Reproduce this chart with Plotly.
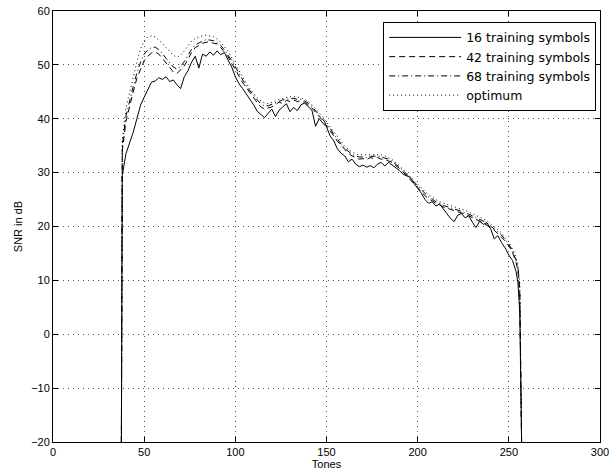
import plotly.graph_objects as go

# Tone indices (x) -- start edge, every 2nd tone, then the steep fall-off
tones = [37.5] + list(range(38, 255, 2)) + [255, 256, 257]

snr_16 = [-20,
    29.5, 33.5, 35.5, 37.5, 40.0, 42.5, 44.0, 45.5, 46.8, 47.0,
    47.6, 47.3, 47.8, 46.9, 47.2, 46.3, 45.6, 47.8, 48.9, 50.5,
    51.6, 49.4, 52.0, 51.6, 52.4, 51.8, 52.6, 51.9, 52.3, 50.9,
    49.6, 47.8, 46.5, 45.6, 44.6, 43.8, 42.6, 41.4, 40.8, 40.2,
    41.0, 41.8, 40.4, 41.6, 42.2, 42.8, 41.3, 42.1, 41.5, 42.6,
    42.9, 42.2, 41.6, 38.6, 40.0, 39.2, 38.5, 36.8, 35.9, 34.4,
    33.6, 33.1, 32.0, 32.5, 31.6, 31.1, 31.4, 31.0, 31.3, 30.9,
    31.6, 31.9, 31.2, 31.9, 31.4, 31.0, 30.4, 29.7, 29.4, 29.1,
    28.0, 27.2, 26.2, 25.0, 24.3, 24.6, 23.8, 24.2, 23.4, 22.4,
    21.5, 20.9, 22.1, 22.4, 21.6, 22.0, 20.8, 19.8, 21.0, 20.4,
    20.7, 19.6, 17.7, 18.3, 17.0, 16.0, 14.7, 13.7, 11.6,
    9.5, 4.0, -20]

snr_42 = [-20,
    34.0, 39.5, 42.5, 45.0, 47.5, 49.2, 50.8, 51.6, 52.2, 52.4,
    52.0, 51.2, 50.3, 49.6, 48.7, 48.4, 49.2, 49.8, 51.0, 52.3,
    53.2, 53.6, 54.0, 54.2, 54.3, 54.0, 53.9, 53.2, 52.4, 51.5,
    50.2, 49.2, 47.9, 46.7, 45.8, 44.8, 43.9, 43.0, 42.2, 41.8,
    42.0, 42.2, 42.6, 43.1, 42.8, 43.4, 43.2, 43.5, 43.2, 43.3,
    43.0, 42.6, 42.0, 41.1, 40.4, 39.7, 38.8, 37.9, 36.8, 35.8,
    35.0, 34.2, 33.6, 33.1, 32.8, 32.5, 32.6, 32.4, 32.8, 32.6,
    32.8, 32.5, 32.4, 32.2, 31.9, 31.3, 30.8, 30.1, 29.4, 28.6,
    28.0, 27.2, 26.4, 25.8, 25.1, 24.8, 24.3, 24.0, 23.6, 23.4,
    23.2, 22.9, 22.8, 22.5, 22.3, 22.0, 21.6, 21.3, 21.0, 20.6,
    20.3, 19.8, 19.3, 18.7, 18.0, 17.3, 16.4, 15.2, 13.3,
    11.8, 7.5, -20]

snr_68 = [-20,
    35.0, 40.5, 43.5, 46.0, 48.5, 50.5, 52.0, 52.8, 53.2, 53.3,
    52.8, 52.1, 51.2, 50.4, 49.6, 49.2, 49.7, 50.6, 51.8, 52.9,
    53.7, 54.1, 54.4, 54.7, 54.6, 54.5, 54.1, 53.6, 52.8, 51.9,
    50.8, 49.6, 48.4, 47.2, 46.1, 45.2, 44.3, 43.5, 42.8, 42.4,
    42.4, 42.7, 43.0, 43.3, 43.5, 43.6, 43.7, 43.8, 43.6, 43.6,
    43.3, 42.9, 42.3, 41.5, 40.8, 40.0, 39.1, 38.2, 37.1, 36.1,
    35.3, 34.5, 33.9, 33.4, 33.1, 32.9, 32.9, 32.8, 33.0, 33.0,
    33.1, 32.9, 32.7, 32.5, 32.1, 31.6, 31.0, 30.4, 29.6, 28.9,
    28.2, 27.5, 26.8, 26.1, 25.5, 25.1, 24.6, 24.3, 23.9, 23.7,
    23.5, 23.3, 23.1, 22.9, 22.6, 22.3, 22.0, 21.7, 21.3, 21.0,
    20.6, 20.1, 19.6, 19.0, 18.4, 17.6, 16.7, 15.5, 13.7,
    12.3, 8.5, -20]

snr_opt = [-20,
    36.0, 42.0, 45.0, 47.5, 50.5, 53.0, 54.4, 55.2, 55.4, 55.2,
    54.6, 54.0, 53.2, 52.5, 51.8, 51.4, 51.8, 52.6, 53.6, 54.4,
    54.9, 55.2, 55.4, 55.5, 55.4, 55.2, 54.8, 54.2, 53.4, 52.5,
    51.3, 50.1, 48.9, 47.7, 46.6, 45.6, 44.7, 43.9, 43.3, 42.9,
    42.8, 43.0, 43.3, 43.6, 43.8, 44.0, 44.1, 44.1, 44.0, 43.9,
    43.6, 43.2, 42.6, 41.9, 41.1, 40.3, 39.4, 38.5, 37.5, 36.5,
    35.6, 34.9, 34.3, 33.8, 33.5, 33.3, 33.3, 33.3, 33.4, 33.4,
    33.4, 33.3, 33.1, 32.8, 32.4, 31.9, 31.3, 30.6, 29.9, 29.2,
    28.5, 27.8, 27.1, 26.5, 25.9, 25.4, 25.0, 24.6, 24.3, 24.1,
    23.9, 23.7, 23.5, 23.3, 23.0, 22.7, 22.4, 22.1, 21.7, 21.4,
    21.0, 20.5, 20.0, 19.4, 18.8, 18.0, 17.1, 15.9, 14.2,
    12.8, 9.5, -20]

series_names = ["16 training symbols", "42 training symbols",
                "68 training symbols", "optimum"]
series_vals = [snr_16, snr_42, snr_68, snr_opt]
series_dash = ["solid", "6px,4px", "6px,3px,1px,3px", "1px,3px"]

x_ticks = [0, 50, 100, 150, 200, 250, 300]
y_ticks = [-20, -10, 0, 10, 20, 30, 40, 50, 60]

fig = go.Figure()
for name, vals, dash in zip(series_names, series_vals, series_dash):
    fig.add_trace(go.Scatter(x=tones, y=vals, mode="lines", name=name,
                             line=dict(color="black", width=1, dash=dash)))

font = dict(family="Liberation Sans, Arial, Helvetica, sans-serif", size=11, color="black")
axis_common = dict(showline=True, linecolor="black", linewidth=1, mirror="ticks",
                   ticks="inside", ticklen=5, tickcolor="black", showgrid=True,
                   gridcolor="#555555", griddash="1px,4px", gridwidth=1, zeroline=False,
                   tickfont=font, automargin=False, ticklabeloverflow="allow")
fig.update_xaxes(range=[0, 300], tickvals=x_ticks,
                 title=dict(text="Tones", font=font, standoff=0), **axis_common)
fig.update_yaxes(range=[-20, 60], tickvals=y_ticks,
                 ticktext=[("\u2212" + str(-v)) if v < 0 else str(v) for v in y_ticks],
                 title=dict(text="SNR in dB", font=font, standoff=6), **axis_common)

fig.update_layout(
    width=616, height=475,
    margin=dict(l=53, r=16, t=11, b=33),
    plot_bgcolor="white", paper_bgcolor="white",
    font=font,
    legend=dict(x=0.993, y=0.975, xanchor="right", yanchor="top",
                bgcolor="white", bordercolor="black", borderwidth=1,
                font=dict(family="DejaVu Sans, sans-serif", size=12.5, color="black"),
                itemwidth=72, tracegroupgap=0),
    showlegend=True,
)

fig.write_html("out.html", config={"displayModeBar": False},
               post_script="document.body.style.margin='0px';document.body.style.overflow='hidden';")
